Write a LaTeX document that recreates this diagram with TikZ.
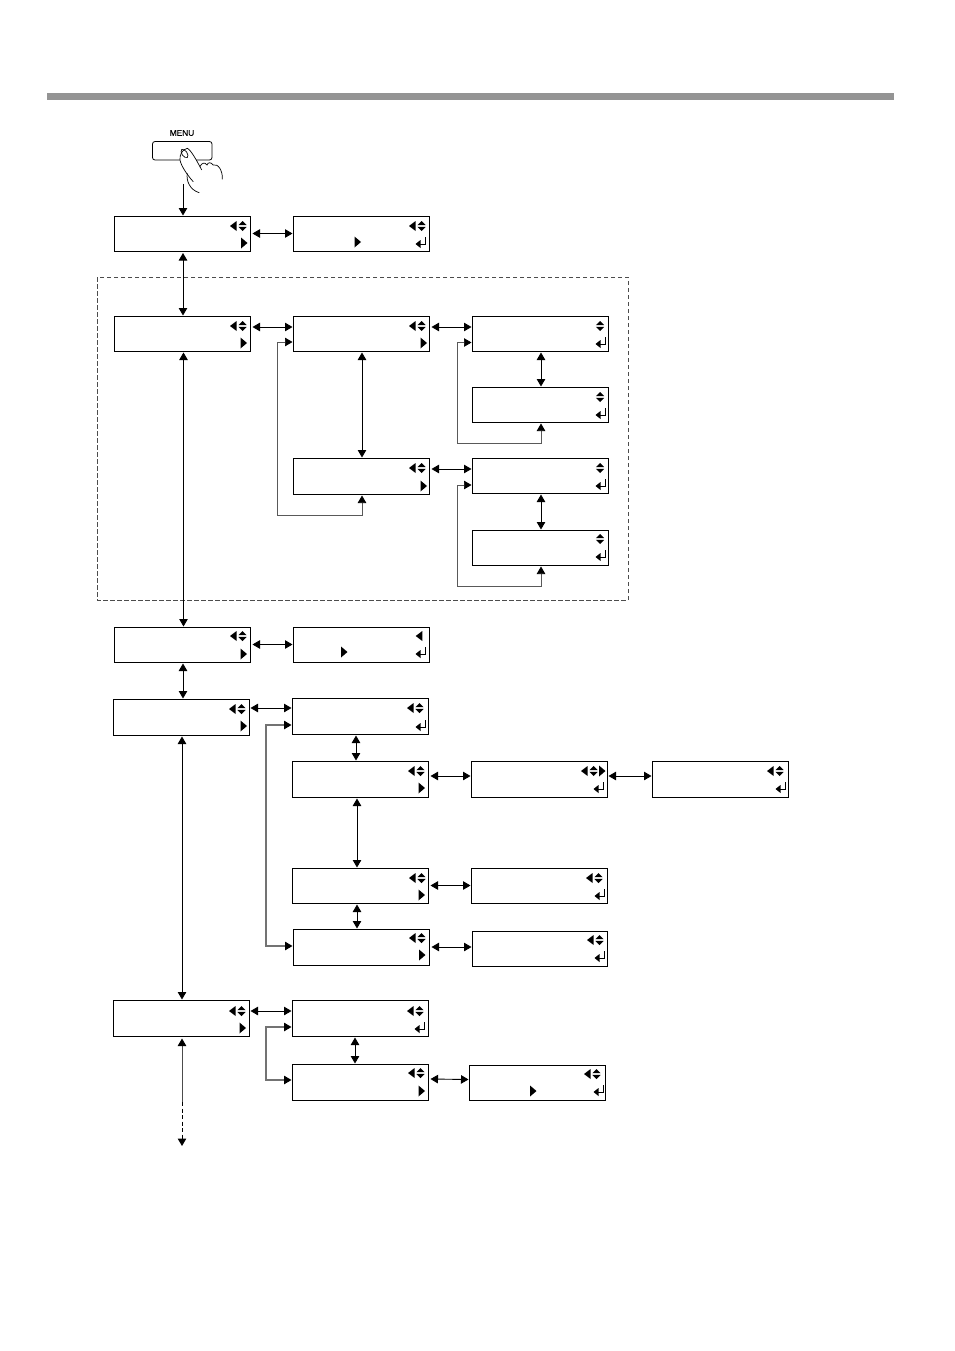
\documentclass[tikz,border=0pt]{standalone}
\usepackage{fontspec}
\setmainfont{Liberation Sans}
\usetikzlibrary{arrows.meta,calc}
\tikzset{
  x=1pt,y=-1pt,
  blacktip/.tip={Triangle[length=7.5pt,width=8.5pt,color=black,fill=black]},
  lcd/.style={draw=black,line width=1pt,fill=white,inner sep=0pt},
  link/.style={line width=0.9pt,black,blacktip-blacktip},
  looplink/.style={line width=1.1pt,draw=black!55,blacktip-blacktip},
  thinloop/.style={looplink,line width=0.7pt,draw=black!65},
}
% icons: #1 x, #2 y = icon centre
\newcommand{\iconL}[2]{\fill (#1+3.3,#2-5) -- (#1-3.3,#2) -- (#1+3.3,#2+5) -- cycle;}
\newcommand{\iconR}[2]{\fill (#1-3,#2-5.5) -- (#1+3.5,#2) -- (#1-3,#2+5.5) -- cycle;}
\newcommand{\iconUD}[2]{\fill (#1-4.2,#2-0.8) -- (#1,#2-5) -- (#1+4.2,#2-0.8) -- cycle;\fill (#1-4.2,#2+0.8) -- (#1,#2+5) -- (#1+4.2,#2+0.8) -- cycle;}
\newcommand{\iconE}[2]{\fill (#1+0.5,#2-3) -- (#1-4.5,#2+1) -- (#1+0.5,#2+5) -- cycle;\draw[line width=1pt] (#1,#2+1) -| (#1+5,#2-6);}
% box helper: name, x1, y1, x2, y2
\newcommand{\lcdbox}[5]{\node[lcd,minimum width=#4pt-#2pt,minimum height=#5pt-#3pt] (#1) at ({(#2+#4)/2},{(#3+#5)/2}) {};}
\newcommand{\lrud}[2]{\iconL{#1-12.7}{#2}\iconUD{#1-3.5}{#2}}
\begin{document}
\begin{tikzpicture}
\useasboundingbox (0,0) rectangle (954,1351);
\fill[white] (0,0) rectangle (954,1351);
\fill[black!42] (47,93) rectangle (894,100);
\draw[black!70,line width=1pt,dash pattern=on 4.5pt off 2.5pt] (97,277) rectangle (628,600);

% boxes
\lcdbox{A1}{114}{216}{250}{251}
\lcdbox{A2}{293}{216}{429}{251}
\lcdbox{B1}{114}{316}{250}{351}
\lcdbox{B2}{293}{316}{429}{351}
\lcdbox{B3}{472}{316}{608}{351}
\lcdbox{B4}{472}{387}{608}{422}
\lcdbox{B5}{293}{458}{429}{494}
\lcdbox{B6}{472}{458}{608}{493}
\lcdbox{B7}{472}{530}{608}{565}
\lcdbox{C1}{114}{627}{250}{662}
\lcdbox{C2}{293}{627}{429}{662}
\lcdbox{D1}{113}{699}{249}{735}
\lcdbox{D2}{292}{698}{428}{734}
\lcdbox{D3}{292}{761}{428}{797}
\lcdbox{D4}{471}{761}{607}{797}
\lcdbox{D5}{652}{761}{788}{797}
\lcdbox{D6}{292}{868}{428}{903}
\lcdbox{D7}{471}{868}{607}{903}
\lcdbox{D8}{293}{929}{429}{965}
\lcdbox{D9}{472}{931}{607}{966}
\lcdbox{E1}{113}{1000}{249}{1036}
\lcdbox{E2}{292}{1000}{428}{1036}
\lcdbox{E3}{292}{1064}{428}{1100}
\lcdbox{E4}{469}{1065}{605}{1100}

% icons
\lrud{246}{226}\iconR{244}{243}
\lrud{425}{226}\iconR{357.5}{242}\iconE{420}{243}
\lrud{246}{326}\iconR{243.5}{343}
\lrud{425}{326}\iconR{423.5}{343}
\iconUD{600}{326}\iconE{600}{343}
\iconUD{600}{397}\iconE{600}{414}
\lrud{425}{468}\iconR{423.5}{486}
\iconUD{600}{468}\iconE{600}{485}
\iconUD{600}{539}\iconE{600}{556}
\lrud{246}{636}\iconR{243.5}{654}
\iconL{419}{636}\iconR{344}{652}\iconE{420}{653}
\lrud{245}{709}\iconR{243.5}{726}
\lrud{423}{708}\iconE{420}{726}
\lrud{424}{771}\iconR{421.5}{788}
\lrud{597}{771}\iconR{602}{771}\iconE{598}{788}
\lrud{783}{771}\iconE{780}{788}
\lrud{425}{878}\iconR{421.5}{895}
\lrud{602}{878}\iconE{599}{895}
\lrud{425}{938}\iconR{422}{955}
\lrud{603}{940}\iconE{599}{957}
\lrud{245}{1011}\iconR{242.5}{1028}
\lrud{423}{1011}\iconE{419}{1028}
\lrud{424}{1073}\iconR{421.5}{1091}
\lrud{600}{1074}\iconR{533}{1091}\iconE{598}{1091}

% menu button and hand
\node[font=\fontsize{8.3}{9}\selectfont,inner sep=0pt,text=black,draw=none] (menu) at (182,133) {\addfontfeatures{FakeBold=0.3}MENU};
\draw[line width=0.8pt,rounded corners=2.5pt] (152.5,141.5) rectangle (212,160);
\fill[white] (187.3,148.3) .. controls (182,149.5) and (179.5,155) .. (180,160)
  .. controls (181,166) and (188,176) .. (193.3,181.7)
  -- (201.7,170) .. controls (197,161) and (191,150) .. (187.3,148.3);
\draw[line width=0.7pt] (180,160) .. controls (181,166) and (188,176) .. (193.3,181.7)
  (180,160) .. controls (179.5,155) and (182,149.5) .. (187.3,148.3)
  .. controls (191,150) and (197,161) .. (201.7,170);
\draw[line width=0.7pt,rotate around={35:(184.5,153.5)}] (184.5,153.5) ellipse (2.6pt and 4.8pt);
\draw[line width=0.7pt] (200,166.5) .. controls (202,162.5) and (205,162) .. (207,165)
  .. controls (208,162) and (211,162) .. (213,165)
  .. controls (218,163) and (223,171) .. (222.3,179.3);
\draw[line width=0.7pt] (187.3,173.3) .. controls (186,181) and (190,190) .. (199.3,192.7);
\coordinate (start) at (183,184);
\draw[line width=0.9pt,-blacktip] (start) -- (A1.north -| start);

% vertical connectors
\draw[link] ([xshift=1pt,yshift=-1.5pt]A1.south) -- ([xshift=1pt]B1.north);
\draw[link] ([xshift=1.5pt,yshift=-1pt]B1.south) -- ([xshift=1.5pt]C1.north);
\draw[link] ([xshift=1pt,yshift=-1pt]C1.south) -- ([xshift=1pt]C1.south |- D1.north);
\draw[link] ([xshift=1pt,yshift=-1pt]D1.south) -- ([xshift=1pt]E1.north);
\draw[link] ([xshift=1pt,yshift=-1pt]B2.south) -- ([xshift=1pt]B5.north);
\draw[link] ([xshift=1pt,yshift=-1pt]B3.south) -- ([xshift=1pt]B4.north);
\draw[link] ([xshift=1pt,yshift=-1pt]B6.south) -- ([xshift=1pt]B7.north);
\draw[link] ([xshift=-4pt,yshift=-1pt]D2.south) -- ([xshift=-4pt]D3.north);
\draw[link] ([xshift=-3pt,yshift=-1pt]D3.south) -- ([xshift=-3pt]D6.north);
\draw[link] ([xshift=-3pt,yshift=-1pt]D6.south) -- ([xshift=-3pt]D6.south |- D8.north);
\draw[link] ([xshift=-5pt,yshift=-1pt]E2.south) -- ([xshift=-5pt]E3.north);

% horizontal connectors
\draw[link] ([xshift=2pt]A1.east) -- (A2.west);
\draw[link] ([xshift=2pt,yshift=6.5pt]B1.east) -- ([yshift=6.5pt]B2.west);
\draw[link] ([xshift=2pt,yshift=6.5pt]B2.east) -- ([yshift=6.5pt]B3.west);
\draw[link] ([xshift=2pt,yshift=7pt]B5.east) -- ([yshift=6.5pt]B6.west);
\draw[link] ([xshift=2pt]C1.east) -- (C2.west);
\draw[link] ([yshift=9pt,xshift=1pt]D1.east) -- ([yshift=8pt]D2.west);
\draw[link] ([yshift=3pt,xshift=2pt]D3.east) -- ([yshift=3pt]D4.west);
\draw[link] ([yshift=3pt,xshift=1pt]D4.east) -- ([yshift=3pt]D5.west);
\draw[link] ([xshift=2pt]D6.east) -- (D7.west);
\draw[link] ([xshift=2pt]D8.east) -- ([yshift=1.5pt]D9.west);
\draw[link] ([yshift=7pt,xshift=1pt]E1.east) -- ([yshift=7pt]E2.west);
\draw[link] ([yshift=3pt,xshift=2pt]E3.east) -- ([yshift=3pt]E4.west);

% return loops
\coordinate (l1) at (277,515);
\coordinate (l2) at (457,443);
\coordinate (l3) at (457,586);
\coordinate (l5) at (266,946);
\coordinate (l7) at (266,1080);
\draw[thinloop] ([xshift=1pt,yshift=-1pt]B5.south) |- (l1) |- ([yshift=-8.5pt]B2.west);
\draw[thinloop] ([xshift=1pt,yshift=-1pt]B4.south) |- (l2) |- ([yshift=-9pt]B3.west);
\draw[thinloop] ([xshift=1pt,yshift=-1pt]B7.south) |- (l3) |- ([yshift=-9.5pt]B6.west);
\draw[looplink] ([yshift=-9pt]D2.west) -| (l5) -- (l5 -| D8.west);
\draw[looplink] ([yshift=-9pt]E2.west) -| (l7) -- (l7 -| E3.west);

% continuation
\coordinate (e1) at (182,1102);
\coordinate (e2) at (182,1146);
\draw[line width=0.9pt,black!70,blacktip-] ([xshift=1pt,yshift=-2pt]E1.south) -- (e1);
\draw[line width=1pt,dash pattern=on 4pt off 2.5pt,-blacktip] (e1) -- (e2);
\end{tikzpicture}
\end{document}
